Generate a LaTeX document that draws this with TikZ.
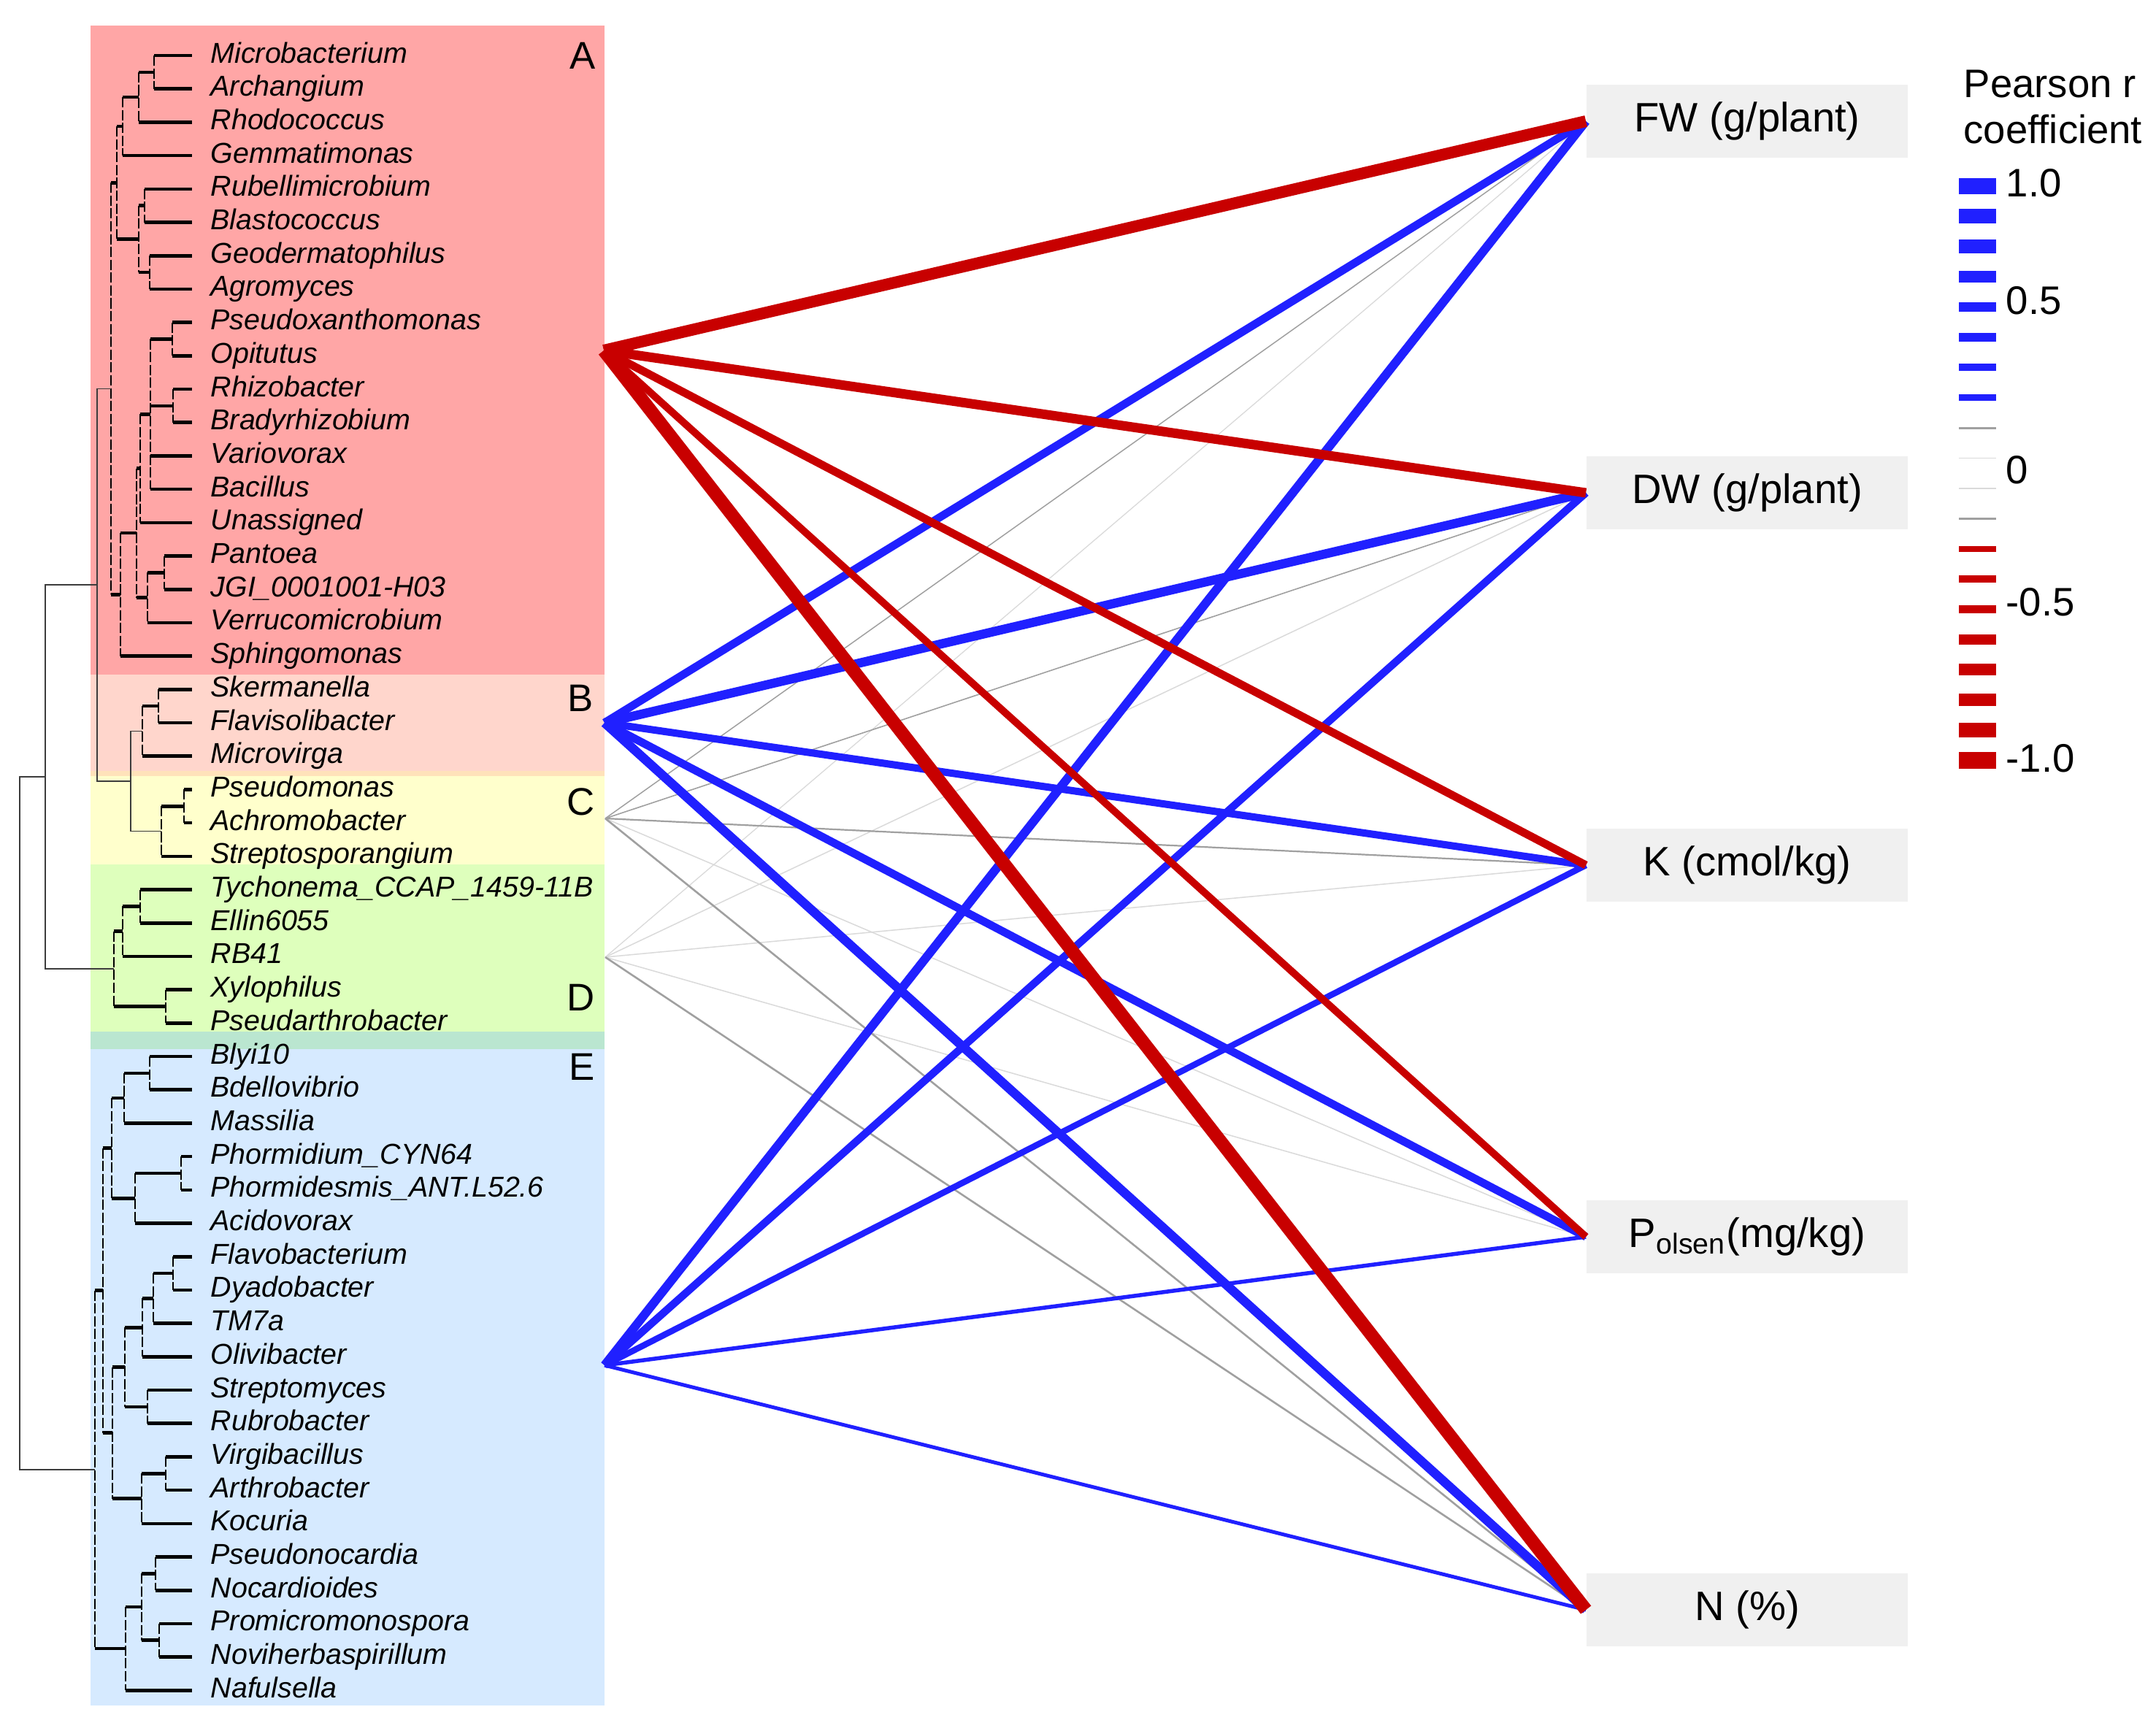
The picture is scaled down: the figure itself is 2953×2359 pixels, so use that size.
\documentclass[tikz,border=0pt]{standalone}
\usepackage{fontspec}
\setmainfont{Liberation Sans}
\definecolor{modA}  {RGB}{255, 166, 166}
\definecolor{modB}  {RGB}{255, 214, 204}
\definecolor{modBC} {RGB}{255, 226, 186}
\definecolor{modC}  {RGB}{255, 255, 204}
\definecolor{modD}  {RGB}{222, 255, 188}
\definecolor{modDE} {RGB}{186, 230, 208}
\definecolor{modE}  {RGB}{214, 234, 255}
\definecolor{posblue}{RGB}{32,  32, 255}
\definecolor{negred} {RGB}{200,  0,   0}
\definecolor{midgrey}{RGB}{160, 160, 160}
\definecolor{palegrey}{RGB}{218, 218, 218}
\definecolor{traitgrey}{RGB}{240, 240, 240}
\definecolor{treegrey}{RGB}{60, 60, 60}

% leaf row k -> y
\newcommand{\ty}[1]{(76+45.7*(#1))}
% x, top child row, top child x, bottom child row, bottom child x
\newcommand{\clade}[5]{%
  \draw[vbranch] (#1,{\ty{#2}}) -- (#1,{\ty{#4}});
  \draw[hbranch] (#1,{\ty{#2}}) -- (#3,{\ty{#2}});
  \draw[hbranch] (#1,{\ty{#4}}) -- (#5,{\ty{#4}});}
\newcommand{\stemclade}[5]{%
  \draw[stem] (#3,{\ty{#2}}) -- (#1,{\ty{#2}}) -- (#1,{\ty{#4}}) -- (#5,{\ty{#4}});}

\tikzset{
  hbranch/.style={line width=1.3pt},
  vbranch/.style={line width=0.7pt, dash pattern=on 4pt off 1pt},
  stem/.style={draw=treegrey, line width=0.45pt},
  taxon/.style={anchor=base west, inner sep=0pt, font=\fontsize{11.2}{13}\selectfont\itshape},
  modlabel/.style={anchor=east, inner sep=0pt, font=\fontsize{15}{18}\selectfont},
  trait/.style={fill=traitgrey, minimum width=4.4cm, minimum height=1cm, inner sep=0pt,
    font=\fontsize{16}{19}\selectfont},
  bluelink/.style={draw=posblue, line width=#1*0.01cm},
  redlink/.style={draw=negred, line width=#1*0.01cm},
  greylink/.style={draw=midgrey, line width=#1*0.01cm},
  palelink/.style={draw=palegrey, line width=#1*0.01cm},
  leglabel/.style={anchor=west, inner sep=0pt, font=\fontsize{15.5}{18}\selectfont},
  legtitle/.style={anchor=base west, inner sep=0pt, font=\fontsize{15.5}{18}\selectfont}
}

\begin{document}
\begin{tikzpicture}[x=0.01cm, y=-0.01cm]
  \useasboundingbox (0,0) rectangle (2953,2359);
  \fill[white] (0,0) rectangle (2953,2359);

  % module backgrounds
  \fill[modA]  (124,35)   rectangle (828,924);
  \fill[modB]  (124,924)  rectangle (828,1056);
  \fill[modBC] (124,1056) rectangle (828,1063);
  \fill[modC]  (124,1063) rectangle (828,1184);
  \fill[modD]  (124,1184) rectangle (828,1413);
  \fill[modDE] (124,1413) rectangle (828,1437);
  \fill[modE]  (124,1437) rectangle (828,2336);

  \node[modlabel] (labA) at (816,76)   {A};
  \node[modlabel] (labB) at (813,956)  {B};
  \node[modlabel] (labC) at (815,1098) {C};
  \node[modlabel] (labD) at (815,1366) {D};
  \node[modlabel] (labE) at (815,1461) {E};

  % taxa
  \foreach \name [count=\i from 0] in {Microbacterium, Archangium, Rhodococcus, Gemmatimonas,
      Rubellimicrobium, Blastococcus, Geodermatophilus, Agromyces, Pseudoxanthomonas, Opitutus,
      Rhizobacter, Bradyrhizobium, Variovorax, Bacillus, Unassigned, Pantoea, JGI\_0001001-H03,
      Verrucomicrobium, Sphingomonas, Skermanella, Flavisolibacter, Microvirga, Pseudomonas,
      Achromobacter, Streptosporangium, Tychonema\_CCAP\_1459-11B, Ellin6055, RB41, Xylophilus,
      Pseudarthrobacter, Blyi10, Bdellovibrio, Massilia, Phormidium\_CYN64,
      Phormidesmis\_ANT.L52.6, Acidovorax, Flavobacterium, Dyadobacter, TM7a, Olivibacter,
      Streptomyces, Rubrobacter, Virgibacillus, Arthrobacter, Kocuria, Pseudonocardia,
      Nocardioides, Promicromonospora, Noviherbaspirillum, Nafulsella}
    \node[taxon] (tx\i) at (288,{86+45.7*\i}) {\name};

  % tree, module A
  \clade{211}{0}{263}{1}{263}
  \clade{190}{0.5}{211}{2}{263}
  \clade{168}{1.25}{190}{3}{263}
  \clade{198}{4}{263}{5}{263}
  \clade{205}{6}{263}{7}{263}
  \clade{190}{4.5}{198}{6.5}{205}
  \clade{160}{2.125}{168}{5.5}{190}
  \clade{236}{8}{263}{9}{263}
  \clade{237}{10}{263}{11}{263}
  \clade{206}{8.5}{236}{13}{263}
  \draw[hbranch] (206,{\ty{10.5}}) -- (237,{\ty{10.5}});
  \draw[hbranch] (206,{\ty{12}}) -- (263,{\ty{12}});
  \clade{192}{10.75}{206}{14}{263}
  \clade{225}{15}{263}{16}{263}
  \clade{202}{15.5}{225}{17}{263}
  \clade{187}{12.375}{192}{16.25}{202}
  \clade{165}{14.3125}{187}{18}{263}
  \clade{152}{3.8125}{160}{16.15625}{165}
  % modules B and C
  \clade{217}{19}{263}{20}{263}
  \clade{195}{19.5}{217}{21}{263}
  \clade{252}{22}{263}{23}{263}
  \clade{221}{22.5}{252}{24}{263}
  % module D
  \clade{192}{25}{263}{26}{263}
  \clade{168}{25.5}{192}{27}{263}
  \clade{227}{28}{263}{29}{263}
  \clade{156}{26.25}{168}{28.5}{227}
  % module E
  \clade{205}{30}{263}{31}{263}
  \clade{170}{30.5}{205}{32}{263}
  \clade{248}{33}{263}{34}{263}
  \clade{185}{33.5}{248}{35}{263}
  \clade{153}{31.25}{170}{34.25}{185}
  \clade{237}{36}{263}{37}{263}
  \clade{210}{36.5}{237}{38}{263}
  \clade{195}{37.25}{210}{39}{263}
  \clade{202}{40}{263}{41}{263}
  \clade{171}{38.125}{195}{40.5}{202}
  \clade{227}{42}{263}{43}{263}
  \clade{194}{42.5}{227}{44}{263}
  \clade{154}{39.3125}{171}{43.25}{194}
  \clade{141}{32.75}{153}{41.28125}{154}
  \clade{213}{45}{263}{46}{263}
  \clade{218}{47}{263}{48}{263}
  \clade{194}{45.5}{213}{47.5}{218}
  \clade{172}{46.5}{194}{49}{263}
  \clade{130}{37.015625}{141}{47.75}{172}
  % joins between modules
  \stemclade{179}{20.25}{195}{23.25}{221}
  \stemclade{133}{9.984375}{152}{21.75}{179}
  \stemclade{62}{15.8671875}{133}{27.375}{156}
  \stemclade{27}{21.62109375}{62}{42.3828125}{130}

  % traits
  \node[trait] (fw)     at (2393,166)  {FW (g/plant)};
  \node[trait] (dw)     at (2393,675)  {DW (g/plant)};
  \node[trait] (kcmol)  at (2393,1185) {K (cmol/kg)};
  \node[trait] (polsen) at (2393,1694) {P\textsubscript{olsen}(mg/kg)};
  \node[trait] (nperc)  at (2393,2205) {N (\%)};

  \coordinate (hubA) at (827,480);
  \coordinate (hubB) at (828,990);
  \coordinate (hubC) at (829,1121);
  \coordinate (hubD) at (829,1311);
  \coordinate (hubE) at (828,1870);

  % weak links
  \draw[palelink=1.3] (hubD) -- (fw.west);
  \draw[palelink=1.5] (hubD) -- (dw.west);
  \draw[palelink=1.5] (hubD) -- (kcmol.west);
  \draw[palelink=1.5] (hubD) -- (polsen.west);
  \draw[palelink=1.5] (hubC) -- (polsen.west);
  \draw[greylink=2.6] (hubD) -- (nperc.west);
  \draw[greylink=1.5] (hubC) -- (fw.west);
  \draw[greylink=1.6] (hubC) -- (dw.west);
  \draw[greylink=2.2] (hubC) -- (kcmol.west);
  \draw[greylink=2.6] (hubC) -- (nperc.west);

  % positive links
  \draw[bluelink=11]   (hubB) -- (fw.west);
  \draw[bluelink=12.5] (hubB) -- (dw.west);
  \draw[bluelink=10]   (hubB) -- (kcmol.west);
  \draw[bluelink=11]   (hubB) -- (polsen.west);
  \draw[bluelink=12.5] (hubB) -- (nperc.west);
  \draw[bluelink=12]   (hubE) -- (fw.west);
  \draw[bluelink=10.5] (hubE) -- (dw.west);
  \draw[bluelink=8.5]  (hubE) -- (kcmol.west);
  \draw[bluelink=5.5]  (hubE) -- (polsen.west);
  \draw[bluelink=5]    (hubE) -- (nperc.west);

  % negative links
  \draw[redlink=16] (hubA) -- (fw.west);
  \draw[redlink=13] (hubA) -- (dw.west);
  \draw[redlink=11] (hubA) -- (kcmol.west);
  \draw[redlink=10] (hubA) -- (polsen.west);
  \draw[redlink=18] (hubA) -- (nperc.west);

  % legend
  \node[legtitle] (ptitle) at (2689,133) {Pearson r};
  \node[legtitle] (ctitle) at (2689,196) {coefficient};
  \foreach \w/\c [count=\i from 0] in {22.5/posblue, 20.4/posblue, 18.7/posblue, 16/posblue,
      13.4/posblue, 11.8/posblue, 10/posblue, 8.6/posblue, 3/midgrey, 1.5/palegrey,
      2/palegrey, 2.6/midgrey, 8/negred, 10/negred, 11.8/negred, 13.4/negred, 16/negred,
      17.7/negred, 20.4/negred, 23/negred}
    \draw[draw=\c, line width=\w*0.01cm] (2683,{254.8+41.4*\i}) -- (2734,{254.8+41.4*\i});
  \node[leglabel] (lgone)   at (2747,251)  {1.0};
  \node[leglabel] (lghalf)  at (2747,412)  {0.5};
  \node[leglabel] (lgzero)  at (2747,644)  {0};
  \node[leglabel] (lgmhalf) at (2747,825)  {-0.5};
  \node[leglabel] (lgmone)  at (2747,1039) {-1.0};
\end{tikzpicture}
\end{document}
